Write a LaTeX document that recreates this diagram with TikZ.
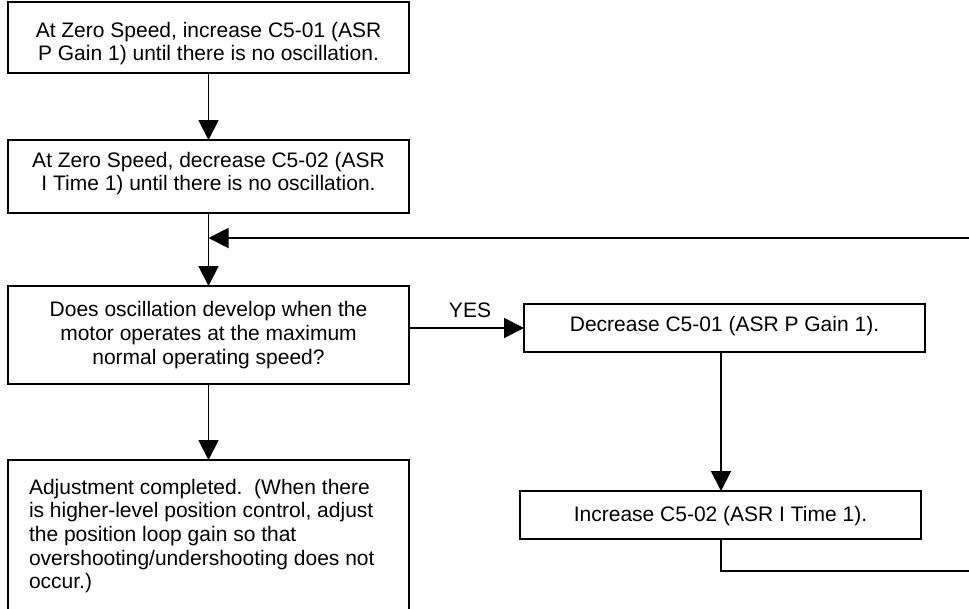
\documentclass[tikz,border=0pt]{standalone}
\usepackage{fontspec}
\setmainfont{Liberation Sans}
\usetikzlibrary{arrows.meta}
\begin{document}
\begin{tikzpicture}[x=1pt,y=-1pt,
  every node/.style={inner sep=0pt, outer sep=0pt},
  box/.style={draw, line width=1.9pt, minimum height=#1},
  txt/.style={font=\fontsize{21}{23.6}\selectfont, align=center},
  link/.style={line width=1.9pt},
  flow/.style={link, -{Triangle[length=20pt,width=20pt]}}]
  \clip (0,0) rectangle (969,608);
  \fill[white] (0,0) rectangle (969,608);
  % left column
  \node[box=71pt, minimum width=401pt] (b1) at (208.5,37.5) {};
  \node[txt] at ([yshift=-6pt]b1.center) {At Zero Speed, increase C5-01 (ASR\\P Gain 1) until there is no oscillation.};
  \node[box=73pt, minimum width=401pt] (b2) at (208.5,176.5) {};
  \node[txt] at ([yshift=3pt]b2.center) {At Zero Speed, decrease C5-02 (ASR\\I Time 1) until there is no oscillation.};
  \node[box=98pt, minimum width=401pt] (b3) at (208.5,335) {};
  \node[txt] at (b3.center) {Does oscillation develop when the\\motor operates at the maximum\\normal operating speed?};
  \node[box=170pt, minimum width=401pt] (b4) at (208.5,545) {};
  \node[txt, align=left, anchor=north west] at (29,479) {Adjustment completed.\ \ (When there\\is higher-level position control, adjust\\the position loop gain so that\\overshooting/undershooting does not\\occur.)};
  % right column
  \node[box=48pt, minimum width=401pt] (d1) at (724.5,328) {};
  \node[txt] at ([yshift=2pt]d1.center) {Decrease C5-01 (ASR P Gain 1).};
  \node[box=48pt, minimum width=401pt] (d2) at (720.5,515) {};
  \node[txt] at ([yshift=-1pt]d2.center) {Increase C5-02 (ASR I Time 1).};
  % connectors
  \coordinate (j) at (b2.south |- 0,238);
  \coordinate (rlow) at (975,571);
  \coordinate (rhigh) at (975,238);
  \draw[flow] (b1.south) -- (b2.north);
  \draw[flow] (b2.south) -- (b3.north);
  \draw[flow] (b3.south) -- (b4.north);
  \draw[flow] (b3.east |- d1.west) -- (d1.west);
  \node[txt] (yes) at (470,310) {YES};
  \draw[flow] (d1.south -| 721,0) -- (d2.north -| 721,0);
  \draw[link] (d2.south -| 721,0) |- (rlow) -- (rhigh);
  \draw[flow] (rhigh) -- (j);
\end{tikzpicture}
\end{document}
